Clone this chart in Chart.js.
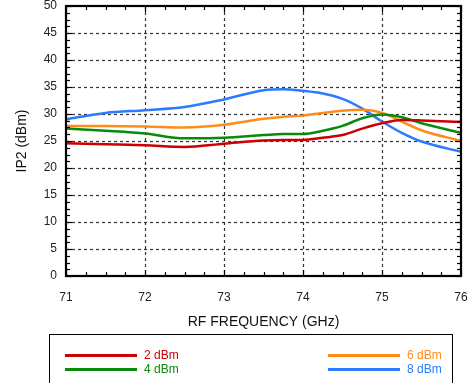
<!DOCTYPE html>
<html>
<head>
<meta charset="utf-8">
<script src="https://cdn.jsdelivr.net/npm/chart.js@4/dist/chart.umd.min.js"></script>
<style>
  html, body { margin: 0; padding: 0; background: #fff; }
  #wrap { position: relative; width: 468px; height: 383px; overflow: hidden; }
  #chart { position: absolute; left: 0; top: 0; }
  #legend {
    position: absolute; left: 49px; top: 334px; width: 404px; height: 80px;
    border: 1px solid #000; box-sizing: border-box;
    font-family: "Liberation Sans", Arial, sans-serif; font-size: 12px;
  }
  .item { position: absolute; height: 14px; line-height: 14px; white-space: nowrap; }
  .item .sw { position: absolute; left: 0; top: 6px; width: 72px; height: 2.5px; }
  .item .tx { position: absolute; left: 79px; top: 0; }
</style>
</head>
<body>
<div id="wrap">
  <canvas id="chart" width="468" height="383"></canvas>
  <div id="legend"></div>
</div>
<script>
// RF frequency sample points (GHz)
const freqs = [71, 71.5, 72, 72.5, 73, 73.5, 73.75, 74, 74.25, 74.5, 74.75, 75, 75.25, 75.5, 76];

// IP2 (dBm) for each LO drive level
const ip2_2dBm = [24.6, 24.4, 24.2, 23.9, 24.5, 25.1, 25.2, 25.2, 25.6, 26.1, 27.3, 28.3, 28.9, 28.8, 28.5];
const ip2_4dBm = [27.3, 26.9, 26.4, 25.5, 25.6, 26.1, 26.3, 26.3, 26.9, 27.8, 29.2, 29.9, 29.4, 28.3, 26.5];
const ip2_6dBm = [27.8, 27.8, 27.7, 27.5, 28.0, 29.1, 29.5, 29.7, 30.2, 30.6, 30.8, 30.2, 28.6, 27.0, 25.0];
const ip2_8dBm = [29.0, 30.2, 30.7, 31.3, 32.7, 34.4, 34.6, 34.3, 33.8, 32.8, 31.0, 28.6, 26.5, 24.9, 23.0];

const seriesNames = ['2 dBm', '4 dBm', '6 dBm', '8 dBm'];
const seriesValues = [ip2_2dBm, ip2_4dBm, ip2_6dBm, ip2_8dBm];
const seriesColors = ['#cc0000', '#0a8a0a', '#ff8c1a', '#2a7bff'];

const xTicks = [71, 72, 73, 74, 75, 76];
const yTicks = [0, 5, 10, 15, 20, 25, 30, 35, 40, 45, 50];

const FONT = '"Liberation Sans", Arial, sans-serif';

// Frame, dashed grid and inward minor/major tick marks
const framePlugin = {
  id: 'frame',
  beforeDatasetsDraw(chart) {
    const { ctx, chartArea: a, scales: { x, y } } = chart;
    ctx.save();
    ctx.strokeStyle = '#333';
    ctx.lineWidth = 1.2;
    ctx.setLineDash([3, 3]);
    xTicks.slice(1, -1).forEach(v => {
      const px = Math.round(x.getPixelForValue(v)) + 0.5;
      ctx.beginPath(); ctx.moveTo(px, a.top); ctx.lineTo(px, a.bottom); ctx.stroke();
    });
    yTicks.slice(1, -1).forEach(v => {
      const py = Math.round(y.getPixelForValue(v)) + 0.5;
      ctx.beginPath(); ctx.moveTo(a.left, py); ctx.lineTo(a.right, py); ctx.stroke();
    });
    ctx.restore();
  },
  afterDraw(chart) {
    const { ctx, chartArea: a, scales: { x, y } } = chart;
    ctx.save();
    ctx.strokeStyle = '#000';
    ctx.lineWidth = 1.2;
    ctx.setLineDash([]);
    // minor ticks every 0.25 GHz on top and bottom
    for (let v = 71; v <= 76.001; v += 0.25) {
      const px = Math.round(x.getPixelForValue(v)) + 0.5;
      const len = Math.abs(v - Math.round(v)) < 1e-6 ? 6 : 4;
      ctx.beginPath(); ctx.moveTo(px, a.bottom); ctx.lineTo(px, a.bottom - len); ctx.stroke();
      ctx.beginPath(); ctx.moveTo(px, a.top); ctx.lineTo(px, a.top + len); ctx.stroke();
    }
    // minor ticks every 1.25 dBm on left and right
    for (let v = 0; v <= 50.001; v += 1.25) {
      const py = Math.round(y.getPixelForValue(v)) + 0.5;
      const len = Math.abs(v / 5 - Math.round(v / 5)) < 1e-6 ? 6 : 4;
      ctx.beginPath(); ctx.moveTo(a.left, py); ctx.lineTo(a.left + len, py); ctx.stroke();
      ctx.beginPath(); ctx.moveTo(a.right, py); ctx.lineTo(a.right - len, py); ctx.stroke();
    }
    ctx.lineWidth = 2.2;
    ctx.strokeRect(a.left, a.top, a.right - a.left, a.bottom - a.top);
    ctx.restore();
  }
};

const datasets = seriesNames.map((name, i) => ({
  label: name,
  data: freqs.map((f, j) => ({ x: f, y: seriesValues[i][j] })),
  borderColor: seriesColors[i],
  backgroundColor: seriesColors[i],
  borderWidth: 2.5,
  pointRadius: 0,
  cubicInterpolationMode: 'monotone',
  fill: false
}));

new Chart(document.getElementById('chart'), {
  type: 'line',
  data: { datasets },
  plugins: [framePlugin],
  options: {
    responsive: false,
    animation: false,
    layout: { padding: { top: 6, right: 7, left: 0, bottom: 0 } },
    plugins: { legend: { display: false }, tooltip: { enabled: false } },
    scales: {
      x: {
        type: 'linear', min: 71, max: 76,
        afterBuildTicks: s => { s.ticks = xTicks.map(v => ({ value: v })); },
        afterFit: s => { s.height = 107; s.paddingLeft = 0; s.paddingRight = 0; },
        grid: { display: false, drawTicks: false },
        border: { display: false },
        ticks: { color: '#222', font: { family: FONT, size: 12 }, padding: 14, maxRotation: 0 },
        title: { display: true, text: 'RF FREQUENCY (GHz)', color: '#111',
                 font: { family: FONT, size: 14 }, padding: { top: 0, bottom: 52 } }
      },
      y: {
        type: 'linear', min: 0, max: 50,
        afterBuildTicks: s => { s.ticks = yTicks.map(v => ({ value: v })); },
        afterFit: s => { s.width = 66; s.paddingTop = 0; s.paddingBottom = 0; },
        grid: { display: false, drawTicks: false },
        border: { display: false },
        ticks: { color: '#222', font: { family: FONT, size: 12 }, padding: 9 },
        title: { display: true, text: 'IP2 (dBm)', color: '#111',
                 font: { family: FONT, size: 14 }, padding: { top: 14, bottom: 0 } }
      }
    }
  }
});

// Legend: two columns inside a framed box
const legend = document.getElementById('legend');
const pos = [[15, 13], [15, 27], [278, 13], [278, 27]];
seriesNames.forEach((name, i) => {
  const it = document.createElement('div');
  it.className = 'item';
  it.style.left = pos[i][0] + 'px';
  it.style.top = pos[i][1] + 'px';
  const sw = document.createElement('div');
  sw.className = 'sw';
  sw.style.background = seriesColors[i];
  const tx = document.createElement('span');
  tx.className = 'tx';
  tx.style.color = seriesColors[i];
  tx.textContent = name;
  it.appendChild(sw); it.appendChild(tx);
  legend.appendChild(it);
});
</script>
</body>
</html>
